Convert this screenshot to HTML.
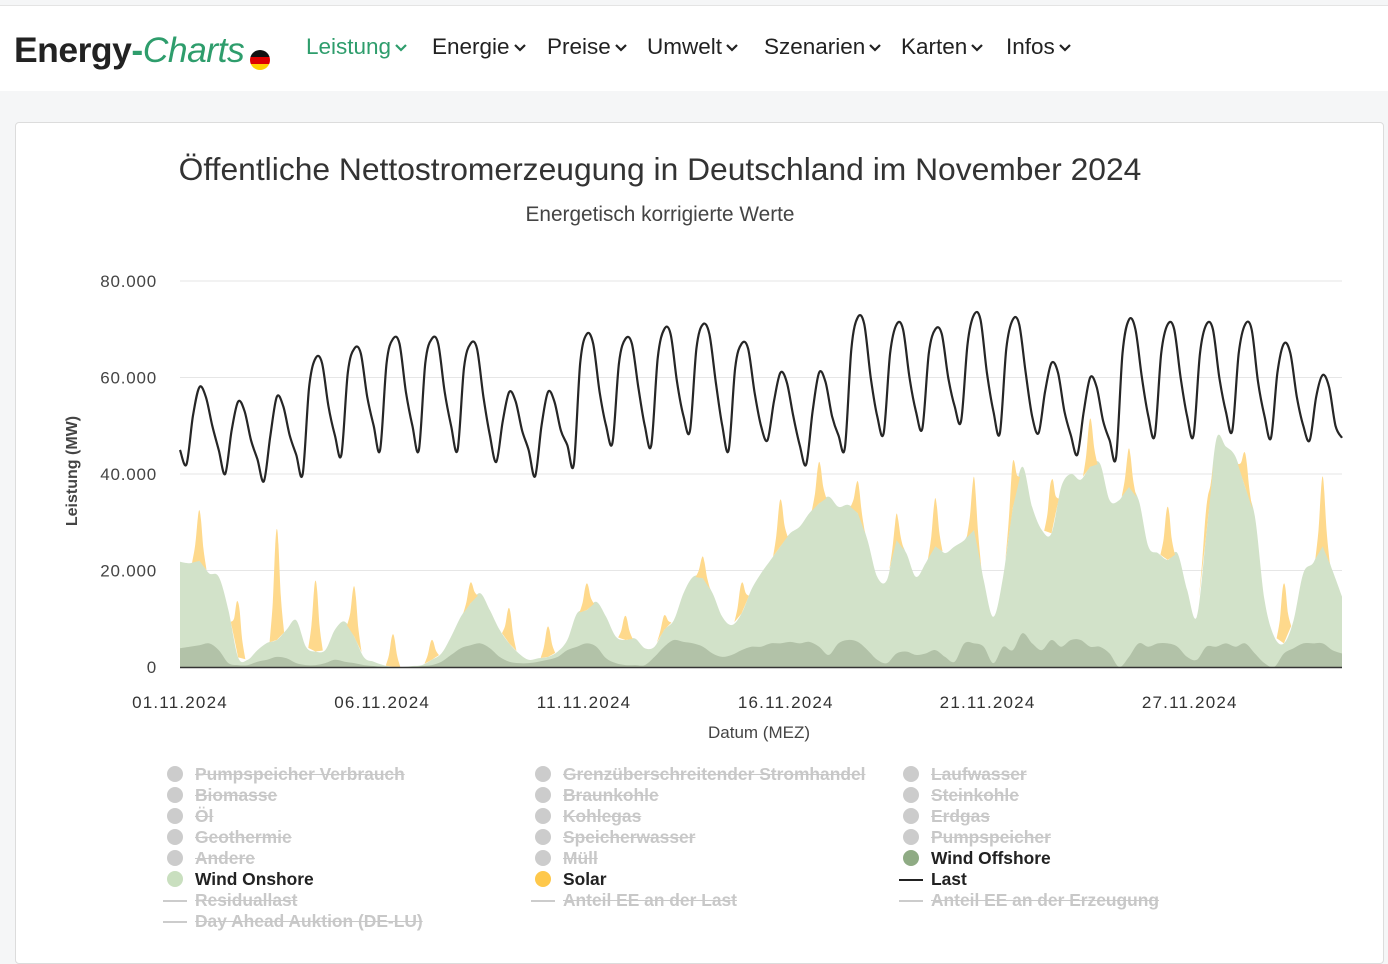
<!DOCTYPE html>
<html><head><meta charset="utf-8">
<style>
body{margin:0;width:1388px;height:949px;overflow:hidden;background:#f5f6f7;font-family:"Liberation Sans",sans-serif;position:relative}
.hdr{position:absolute;left:0;top:5px;width:1388px;height:85px;background:#fff;border-top:1px solid #e4e4e4}
.logo{position:absolute;left:14px;top:24px;font-size:35.5px;font-weight:bold;color:#222;letter-spacing:-0.5px}
.logo .g{color:#2e9d6c}.logo i{color:#2e9d6c;font-weight:normal}
.nav{position:absolute;top:28px;font-size:22.5px;color:#222}
.nav svg{vertical-align:middle;margin-left:3px}
.card{position:absolute;left:15px;top:122px;width:1367px;height:840px;background:#fff;border:1px solid #dcdcdc;border-radius:4px}
.t{position:absolute;white-space:nowrap}
.leg{position:absolute;font-size:17.4px;font-weight:bold;white-space:nowrap}
.off{color:#c8c8c8;text-decoration:line-through}
.dot{position:absolute;width:16px;height:16px;border-radius:50%}
.ln{position:absolute;height:2px;width:24px}
</style></head><body>
<div class="hdr">
 <div class="logo">Energy<span class="g">-</span><i>Charts</i></div>
 <svg style="position:absolute;left:249px;top:43px" width="22" height="22"><defs><clipPath id="cf"><circle cx="11" cy="11" r="10"/></clipPath></defs><g clip-path="url(#cf)"><rect x="0" y="0" width="22" height="8" fill="#111"/><rect x="0" y="8" width="22" height="7" fill="#dd0000"/><rect x="0" y="15" width="22" height="8" fill="#ffce00"/></g></svg>
 <div class="nav" style="left:306px;color:#2e9d6c">Leistung<svg width="14" height="10"><polyline points="2,2 7,7 12,2" fill="none" stroke="#2e9d6c" stroke-width="2.2"/></svg></div>
 <div class="nav" style="left:432px">Energie<svg width="14" height="10"><polyline points="2,2 7,7 12,2" fill="none" stroke="#222" stroke-width="2.2"/></svg></div>
 <div class="nav" style="left:547px">Preise<svg width="14" height="10"><polyline points="2,2 7,7 12,2" fill="none" stroke="#222" stroke-width="2.2"/></svg></div>
 <div class="nav" style="left:647px">Umwelt<svg width="14" height="10"><polyline points="2,2 7,7 12,2" fill="none" stroke="#222" stroke-width="2.2"/></svg></div>
 <div class="nav" style="left:764px">Szenarien<svg width="14" height="10"><polyline points="2,2 7,7 12,2" fill="none" stroke="#222" stroke-width="2.2"/></svg></div>
 <div class="nav" style="left:901px">Karten<svg width="14" height="10"><polyline points="2,2 7,7 12,2" fill="none" stroke="#222" stroke-width="2.2"/></svg></div>
 <div class="nav" style="left:1006px">Infos<svg width="14" height="10"><polyline points="2,2 7,7 12,2" fill="none" stroke="#222" stroke-width="2.2"/></svg></div>
</div>
<div class="card"></div>
<div class="t" style="left:0;width:1320px;text-align:center;top:151px;font-size:31.8px;color:#333">Öffentliche Nettostromerzeugung in Deutschland im November 2024</div>
<div class="t" style="left:0;width:1320px;text-align:center;top:203px;font-size:20.8px;color:#444">Energetisch korrigierte Werte</div>
<div class="t" style="left:708px;top:723px;font-size:17px;color:#444">Datum (MEZ)</div>
<div class="t" style="left:-2px;top:462px;font-size:16px;font-weight:bold;color:#444;transform:rotate(-90deg);width:150px;text-align:center">Leistung (MW)</div>
<svg id="chart" style="position:absolute;left:0;top:0" width="1388" height="949"></svg>

<!-- legend -->
<div class="dot" style="left:167px;top:766px;background:#ccc"></div><div class="leg off" style="left:195px;top:764px">Pumpspeicher Verbrauch</div>
<div class="dot" style="left:167px;top:787px;background:#ccc"></div><div class="leg off" style="left:195px;top:785px">Biomasse</div>
<div class="dot" style="left:167px;top:808px;background:#ccc"></div><div class="leg off" style="left:195px;top:806px">Öl</div>
<div class="dot" style="left:167px;top:829px;background:#ccc"></div><div class="leg off" style="left:195px;top:827px">Geothermie</div>
<div class="dot" style="left:167px;top:850px;background:#ccc"></div><div class="leg off" style="left:195px;top:848px">Andere</div>
<div class="dot" style="left:167px;top:871px;background:#c9dfbf"></div><div class="leg" style="left:195px;top:869px;color:#222">Wind Onshore</div>
<div class="ln" style="left:163px;top:900px;background:#ccc"></div><div class="leg off" style="left:195px;top:890px">Residuallast</div>
<div class="ln" style="left:163px;top:921px;background:#ccc"></div><div class="leg off" style="left:195px;top:911px">Day Ahead Auktion (DE-LU)</div>

<div class="dot" style="left:535px;top:766px;background:#ccc"></div><div class="leg off" style="left:563px;top:764px">Grenzüberschreitender Stromhandel</div>
<div class="dot" style="left:535px;top:787px;background:#ccc"></div><div class="leg off" style="left:563px;top:785px">Braunkohle</div>
<div class="dot" style="left:535px;top:808px;background:#ccc"></div><div class="leg off" style="left:563px;top:806px">Kohlegas</div>
<div class="dot" style="left:535px;top:829px;background:#ccc"></div><div class="leg off" style="left:563px;top:827px">Speicherwasser</div>
<div class="dot" style="left:535px;top:850px;background:#ccc"></div><div class="leg off" style="left:563px;top:848px">Müll</div>
<div class="dot" style="left:535px;top:871px;background:#fec84b"></div><div class="leg" style="left:563px;top:869px;color:#222">Solar</div>
<div class="ln" style="left:531px;top:900px;background:#ccc"></div><div class="leg off" style="left:563px;top:890px">Anteil EE an der Last</div>

<div class="dot" style="left:903px;top:766px;background:#ccc"></div><div class="leg off" style="left:931px;top:764px">Laufwasser</div>
<div class="dot" style="left:903px;top:787px;background:#ccc"></div><div class="leg off" style="left:931px;top:785px">Steinkohle</div>
<div class="dot" style="left:903px;top:808px;background:#ccc"></div><div class="leg off" style="left:931px;top:806px">Erdgas</div>
<div class="dot" style="left:903px;top:829px;background:#ccc"></div><div class="leg off" style="left:931px;top:827px">Pumpspeicher</div>
<div class="dot" style="left:903px;top:850px;background:#8fab84"></div><div class="leg" style="left:931px;top:848px;color:#222">Wind Offshore</div>
<div class="ln" style="left:899px;top:879px;background:#222"></div><div class="leg" style="left:931px;top:869px;color:#222">Last</div>
<div class="ln" style="left:899px;top:900px;background:#ccc"></div><div class="leg off" style="left:931px;top:890px">Anteil EE an der Erzeugung</div>

<script>
// Values in thousand MW. Load sampled every 4 h from 01.11 00:00, winds every 6 h.
const loadGW = [
45,42,52,58,56,50, 45,40,49,55,53,47, 43,38.5,48,56,54,48, 44,40,58,64,63,54, 48,44,61,66,65,56,
50,45,63,68,67,57, 50,45,63,68,67,57, 50,45,62,67,66,56, 48,42.5,51,57,55,49, 45,39.5,50,57,55,49,
46,42,63,69,67,57, 50,46.5,63,68,67,58, 50,46,64,70,69,59, 52,49,66,71,69,59, 50,45,62,67,66,57,
50,47,55,61,59,52, 46,42,53,61,59,52, 48,45.5,66,72.5,71,60, 52,48.5,65,71,70,60, 53,49.5,65,70,69,60,
54,51,67,73,72,61, 53,48.5,66,72,71,61, 52,48.5,57,63,61,53, 48,44,53,60,58,51, 47,43.5,65,72,70,60,
52,48,65,71,70,60, 52,48,65,71,70,60, 53,49,65,71,70,59, 52,47.5,61,67,65,56, 50,47,56,60.5,58,50, 47.5];
const windOffshoreGW = [
3.9,4.2,4.5,4.9, 3.5,0.8,0.4,0.4, 1.1,1.5,2.1,1.8, 0.8,0.4,0.4,0.8, 1.5,1.1,0.8,0.4,
0.2,0,0,0, 0,0.2,0.4,1.1, 2.5,3.9,4.5,4.9, 3.9,2.1,1.1,0.8, 0.8,1.1,1.5,2.1,
3.5,4.2,4.9,4.2, 1.8,0.8,0.4,0.4, 0.4,2.1,4.2,5.6, 5.2,4.9,4.2,2.8, 2.1,2.5,3.5,4.2,
4.2,4.9,4.9,5.2, 4.9,5.2,4.2,2.5, 4.9,5.6,5.2,3.5, 1.5,0.8,2.8,3.2, 2.5,2.8,3.5,2.1,
1.1,4.9,4.9,4.2, 0.8,4.2,3.5,7, 4.9,3.5,5.6,4.2, 5.6,5.6,4.2,4.2, 2.8,0,2.1,4.9,
4.2,4.9,4.9,4.2, 2.1,1.5,4.2,4.2, 4.9,4.2,4.9,2.8, 0.8,0,2.8,3.9, 4.9,4.9,4.9,3.5, 2.8];
const windOnshoreGW = [
17.9,17.3,17.5,14.5, 15.2,11,1.6,1.1, 2.4,3.5,3.5,5.9, 8.9,3.8,2.8,2.7, 6.2,8.3,5.5,1.6,
0.9,0.4,0,0, 0.2,0.2,1.1,1.7, 3.8,6.5,8.7,10.4, 7.9,5.6,3.8,2, 0.7,0.7,0.6,1.1,
2.1,6.9,6.9,9.3, 8.6,5.5,5.2,5.5, 3.5,2.1,3.5,4.1, 10.1,13.8,14.2,12.5, 8.3,6.2,7.6,11.8,
15.2,17.3,20.1,22.5, 24.2,26.7,29.7,32.8, 28.3,28,26.7,22.8, 17.2,17.2,23.5,20.4, 16.2,18.7,21.5,21.5,
23.9,21.4,23.5,13.8, 9.6,14.5,29.5,34.5, 28.3,24.9,22.1,33.1, 34.4,33.2,37.3,38, 31.8,34.6,35.2,29.7,
20.8,18.7,17.3,19.4, 13.9,8.9,23.5,42.8, 40.8,39.4,32.4,28.4, 13.1,6.3,2.1,5.8, 14.5,16.6,20.1,16.6, 11.8];
const solarNoonGW = [10.5,11.4,23,14.7,10.4,6.8,4.1,4.3,7.3,6.3,5.5,5,3,4.5,6.3,9.7,8.6,6.6,5.5,10,11,9.5,11,10,8,11,5.5,7,12.4,14.5];
const yTicks = [0,20000,40000,60000,80000];
const yTickLabels = ["0","20.000","40.000","60.000","80.000"];
const xTickDays = [0,5.22,10.43,15.64,20.85,26.07];
const xTickLabels = ["01.11.2024","06.11.2024","11.11.2024","16.11.2024","21.11.2024","27.11.2024"];

const NS="http://www.w3.org/2000/svg";
const svg=document.getElementById('chart');
const X0=180,X1=1342,Y0=667,YT=281,HOURS=720,YMAX=80000;
function xH(h){return X0+h/HOURS*(X1-X0);}
function yV(v){return Y0-v/YMAX*(Y0-YT);}
function mk(tag,attrs){const e=document.createElementNS(NS,tag);for(const k in attrs)e.setAttribute(k,attrs[k]);svg.appendChild(e);return e;}
function smooth(p){let d='M'+p[0][0].toFixed(1)+','+p[0][1].toFixed(1);
 for(let i=0;i<p.length-1;i++){const a=p[Math.max(0,i-1)],b=p[i],c=p[i+1],e=p[Math.min(p.length-1,i+2)];
  const c1x=b[0]+(c[0]-a[0])/6,c1y=b[1]+(c[1]-a[1])/6,c2x=c[0]-(e[0]-b[0])/6,c2y=c[1]-(e[1]-b[1])/6;
  d+='C'+c1x.toFixed(1)+','+c1y.toFixed(1)+' '+c2x.toFixed(1)+','+c2y.toFixed(1)+' '+c[0].toFixed(1)+','+c[1].toFixed(1);}
 return d;}

yTicks.forEach((v,i)=>{
 if(v>0){const g=mk('line',{x1:X0,x2:X1,y1:yV(v),y2:yV(v),stroke:'#e6e6e6','stroke-width':1});
 
 }
 const t=mk('text',{x:157,y:yV(v)+6,'text-anchor':'end','font-size':17,fill:'#444','font-family':'Liberation Sans, sans-serif','letter-spacing':'0.8'});
 t.textContent=yTickLabels[i];
 
 
});
xTickDays.forEach((d,i)=>{
 const t=mk('text',{x:xH(d*24),y:708,'text-anchor':'middle','font-size':17,fill:'#333','font-family':'Liberation Sans, sans-serif','letter-spacing':'1.2'});
 t.textContent=xTickLabels[i];
 
 
});

const windTop=windOnshoreGW.map((v,i)=>v+windOffshoreGW[i]);
function windAt(h){const k=h/6,i=Math.floor(k),f=k-i;const a=windTop[Math.min(i,windTop.length-1)],b=windTop[Math.min(i+1,windTop.length-1)];return a+(b-a)*f;}
const onPts=windTop.map((v,i)=>[xH(i*6),yV(v*1000)]);
const on=mk('path',{d:smooth(onPts)+'L'+xH(HOURS)+','+Y0+'L'+X0+','+Y0+'Z',fill:'#d2e2c9'});


const offPts=windOffshoreGW.map((v,i)=>[xH(i*6),yV(v*1000)]);
const off=mk('path',{d:smooth(offPts)+'L'+xH(HOURS)+','+Y0+'L'+X0+','+Y0+'Z',fill:'#b2c2a8'});



const prof=[[7.5,0],[9.5,0.35],[11,0.85],[12,1],[13,0.85],[14.5,0.35],[16.5,0]];
solarNoonGW.forEach((p,day)=>{
 const top=prof.map(q=>{const h=day*24+q[0];return [xH(h),yV((windAt(h)+p*q[1])*1000)];});
 let base='';
 for(let j=prof.length-1;j>=0;j--){const h=day*24+prof[j][0];base+='L'+xH(h).toFixed(1)+','+yV(windAt(h)*1000).toFixed(1);}
 const s=mk('path',{d:smooth(top)+base+'Z',fill:'#fed98c'});
 
 
});

const ax=mk('line',{x1:X0,x2:X1,y1:Y0+0.5,y2:Y0+0.5,stroke:'#333','stroke-width':1.5});



const lp=loadGW.map((v,i)=>[xH(i*4),yV(v*1000)]);
const ld=mk('path',{d:smooth(lp),fill:'none',stroke:'#262626','stroke-width':2.2,'stroke-linejoin':'round'});


</script>
</body></html>
